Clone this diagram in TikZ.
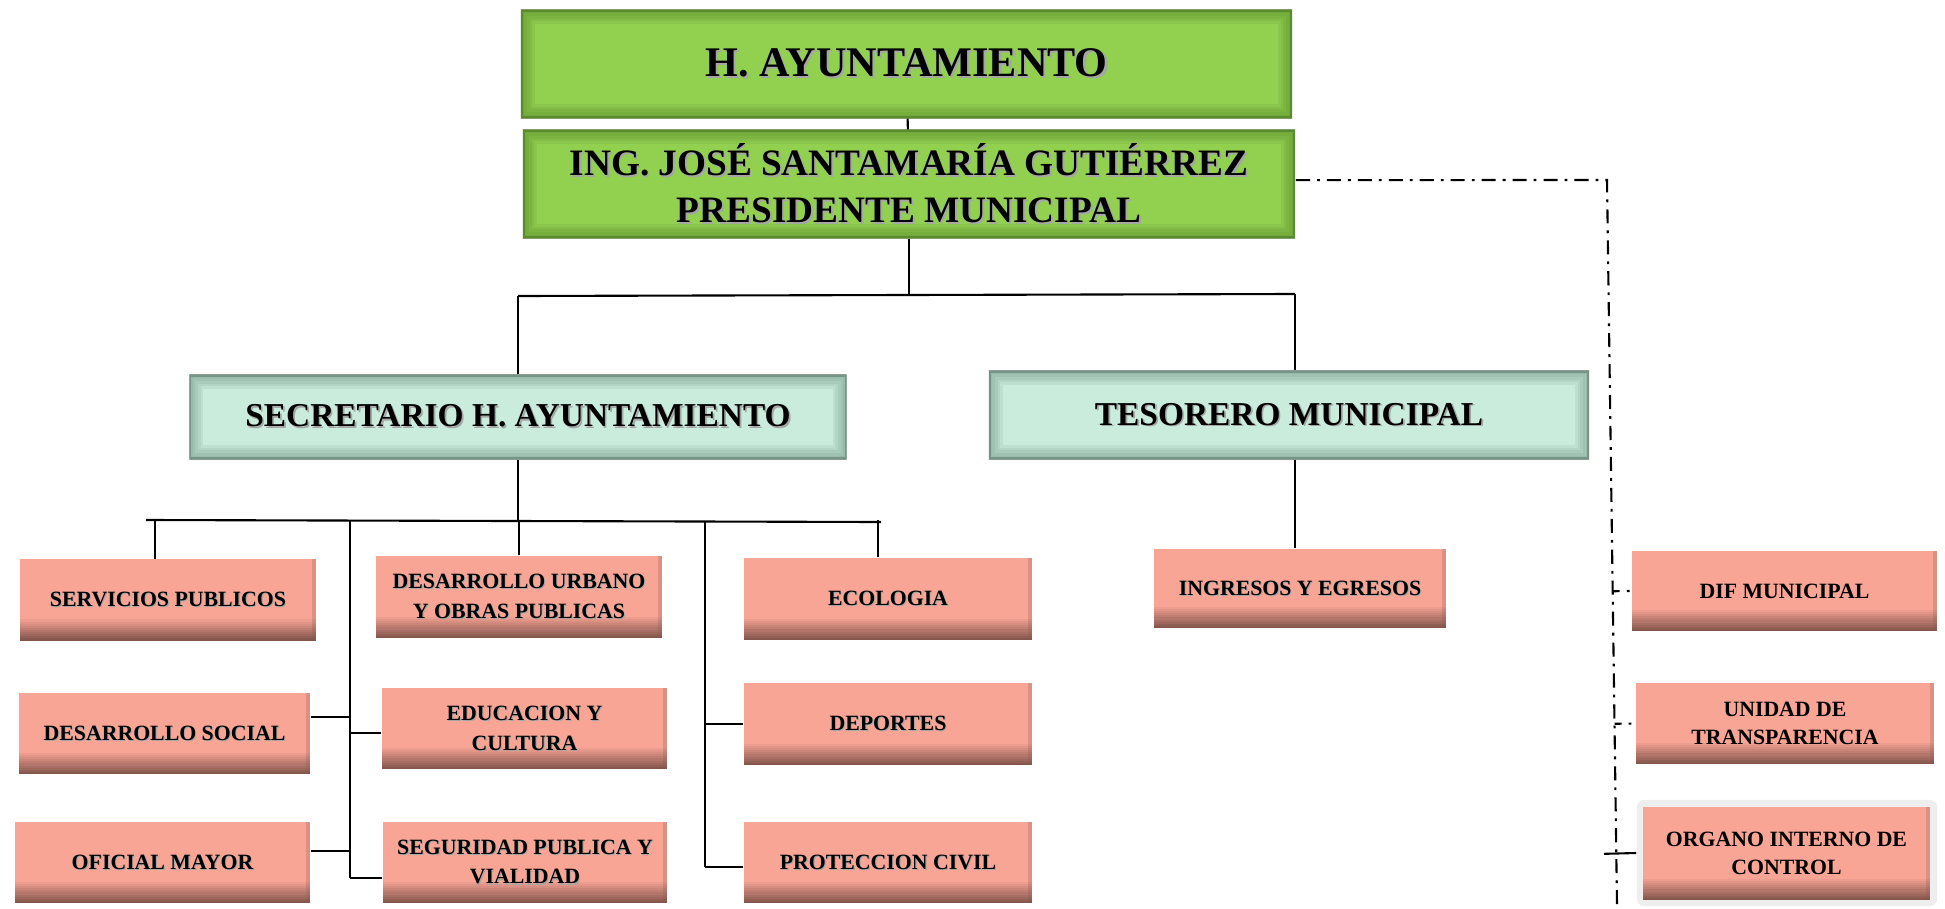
\documentclass[tikz,border=0pt]{standalone}
\usepackage{fontspec}
\setmainfont{Liberation Serif}
\usetikzlibrary{calc}

\definecolor{verde}{HTML}{92D050}
\definecolor{verdeosc}{HTML}{3F6A1E}
\definecolor{menta}{HTML}{C9ECDC}
\definecolor{mentaosc}{HTML}{4F6A5C}
\definecolor{salmon}{HTML}{F9A596}
\definecolor{salmonosc}{HTML}{86574D}

\newcommand{\sombra}[1]{\rlap{\kern.05em\raisebox{-.05em}{\textcolor{black!35}{#1}}}#1}

\begin{document}
\begin{tikzpicture}
  [x=0.01cm,y=-0.01cm,
   caja/.style={rectangle,inner sep=0pt,align=center},
   medida/.style 2 args={minimum width=#1cm,minimum height=#2cm},
   brillo/.style={path picture={
       \foreach \w in {8,6.5,5,3.5,2}
         \draw[#1,opacity=.09,line width=\w pt] (path picture bounding box.south west) rectangle (path picture bounding box.north east);
       \draw[#1,opacity=.45,line width=1.2pt] (path picture bounding box.south west) rectangle (path picture bounding box.north east);}},
   verdebox/.style={caja,fill=verde,brillo=verdeosc,font=\bfseries\fontsize{10.6}{13.4}\selectfont},
   mentabox/.style={caja,fill=menta,brillo=mentaosc,font=\bfseries\fontsize{9.5}{11}\selectfont},
   rosabox/.style={caja,fill=salmon,font=\bfseries\fontsize{6.2}{8.5}\selectfont,
     path picture={
       \foreach \k in {1,...,10}
         \fill[salmonosc!\k0!salmon] ([yshift={(11-\k)*0.6pt}]path picture bounding box.south west) rectangle ([yshift={(10-\k)*0.6pt}]path picture bounding box.south east);
       \fill[salmonosc,opacity=.25] ([xshift=-1.2pt]path picture bounding box.south east) rectangle (path picture bounding box.north east);}},
   derbox/.style={rosabox,font=\bfseries\fontsize{6.2}{8}\selectfont},
   linea/.style={line width=0.6pt},
   punteada/.style={line width=0.6pt,dash pattern=on 4pt off 2pt on 0.8pt off 2pt},
   rama/.style={line width=0.6pt,dash pattern=on 2pt off 2pt on 0.8pt off 2pt}]
  \useasboundingbox (0,0) rectangle (1945,909);

  % cabeza
  \node[verdebox,medida={7.71}{1.08},font=\bfseries\fontsize{12}{14}\selectfont] (hay) at (906.5,64) {\sombra{H. AYUNTAMIENTO}};
  \node[verdebox,medida={7.72}{1.08}] (pres) at (909,184) {\sombra{ING. JOSÉ SANTAMARÍA GUTIÉRREZ}\\\sombra{PRESIDENTE MUNICIPAL}};
  \node[mentabox,medida={6.57}{0.84}] (sec) at (518,417) {\sombra{SECRETARIO H. AYUNTAMIENTO}};
  \node[mentabox,medida={6.00}{0.88}] (tes) at (1289,415) {\sombra{TESORERO MUNICIPAL}};

  % direcciones
  \node[rosabox,medida={2.96}{0.81}] (serv) at (168,600)   {\sombra{SERVICIOS PUBLICOS}};
  \node[rosabox,medida={2.91}{0.81}] (dsoc) at (164.5,733.5) {\sombra{DESARROLLO SOCIAL}};
  \node[rosabox,medida={2.95}{0.81}] (ofic) at (162.5,862.5) {\sombra{OFICIAL MAYOR}};
  \node[rosabox,medida={2.86}{0.82}] (urb)  at (519,597)   {\sombra{DESARROLLO URBANO}\\\sombra{Y OBRAS PUBLICAS}};
  \node[rosabox,medida={2.85}{0.81}] (edu)  at (524.5,728.5) {\sombra{EDUCACION Y}\\\sombra{CULTURA}};
  \node[rosabox,medida={2.84}{0.81}] (seg)  at (525,862.5)   {\sombra{SEGURIDAD PUBLICA Y}\\\sombra{VIALIDAD}};
  \node[rosabox,medida={2.88}{0.82}] (eco)  at (888,599)   {\sombra{ECOLOGIA}};
  \node[rosabox,medida={2.88}{0.82}] (dep)  at (888,724)   {\sombra{DEPORTES}};
  \node[rosabox,medida={2.88}{0.81}] (prot) at (888,862.5) {\sombra{PROTECCION CIVIL}};
  \node[rosabox,medida={2.92}{0.79}] (ing)  at (1300,588.5) {\sombra{INGRESOS Y EGRESOS}};

  % organos
  \node[caja,medida={3.00}{1.06},fill=gray!13,rounded corners=2pt] (orgf) at (1787,853) {};
  \node[derbox,medida={3.05}{0.80}] (dif) at (1784.5,591)  {DIF MUNICIPAL};
  \node[derbox,medida={2.98}{0.81}] (uni) at (1785,723.5)  {UNIDAD DE\\TRANSPARENCIA};
  \node[derbox,medida={2.87}{0.93}] (org) at (1786.5,853.5) {ORGANO INTERNO DE\\CONTROL};

  \coordinate (bl) at (518,296);
  \coordinate (br) at (1295,294);
  \coordinate (sl) at (146,520);
  \coordinate (sr) at (881,522);
  \coordinate (tl) at (350,521);
  \coordinate (tlb) at (350,878);
  \coordinate (tr) at (705,522);
  \coordinate (trb) at (705,867);
  \coordinate (d1) at (1607,180);
  \coordinate (d2) at (1617,905);

  \draw[linea] (hay) -- (pres);
  \draw[linea] (pres.south) -- (pres.south |- bl);
  \draw[linea] (bl) -- (br);
  \draw[linea] (bl) -- (bl |- sec.north);
  \draw[linea] (br) -- (br |- tes.north);
  \draw[linea] (br |- tes.south) -- (br |- ing.north);
  \draw[linea] (sec.south) -- (sec.south |- sl);
  \draw[linea] (sl) -- (sr);
  \draw[linea] (tl) -- (tlb);
  \draw[linea] (tr) -- (trb);

  \foreach \caja/\dx in {serv/-3.7pt,urb/0pt,eco/-2.85pt}
    \draw[linea] ([xshift=\dx]\caja.north) -- ([xshift=\dx]\caja.north |- sl);
  \foreach \caja/\dy in {dsoc/4.7pt,ofic/3.3pt}
    \draw[linea] ([yshift=\dy]\caja.east) -- ([yshift=\dy]\caja.east -| tl);
  \foreach \caja/\dy in {edu/-1.3pt,seg/-4.4pt}
    \draw[linea] ([yshift=\dy]\caja.west) -- ([yshift=\dy]\caja.west -| tl);
  \foreach \caja/\dy in {dep/0pt,prot/-1.3pt}
    \draw[linea] ([yshift=\dy]\caja.west) -- ([yshift=\dy]\caja.west -| tr);

  % linea de apoyo
  \draw[punteada] ([yshift=1.1pt]pres.east) -- (d1) -- (d2);
  \coordinate (dj) at ($(d1)!(dif.west)!(d2)$);
  \coordinate (uj) at ($(d1)!(uni.west)!(d2)$);
  \coordinate (oj) at ($(d1)!(org.west)!(d2)$);
  \draw[rama] (dj) -- (dif.west);
  \draw[rama] (uj) -- (uni.west);
  \draw[linea] ([xshift=-3.5pt]oj) -- (orgf.west);
\end{tikzpicture}
\end{document}
